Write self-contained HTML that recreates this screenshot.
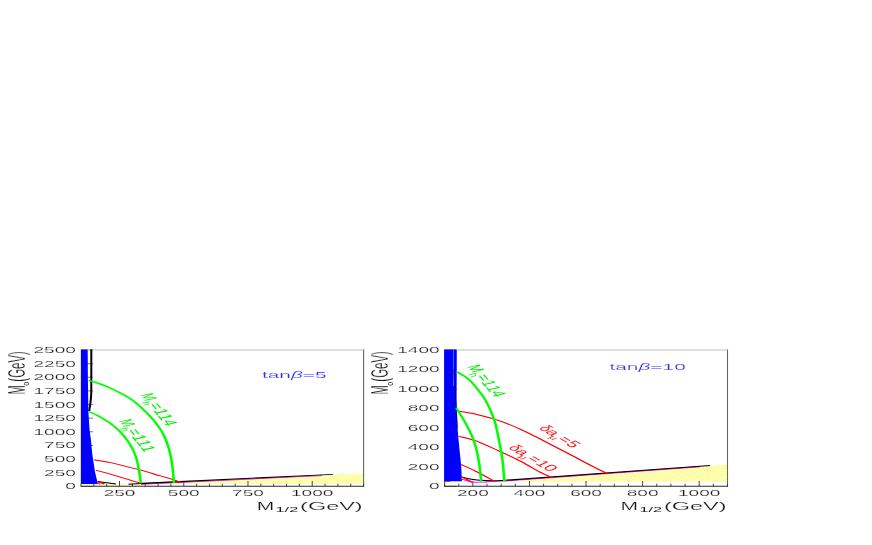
<!DOCTYPE html>
<html><head><meta charset="utf-8"><title>plot</title>
<style>html,body{margin:0;padding:0;background:#fff}svg{display:block;will-change:transform}text{font-family:"Liberation Sans", sans-serif}</style>
</head><body>
<svg width="872" height="545" viewBox="0 0 872 545" font-family='"Liberation Sans", sans-serif'>
<defs><pattern id="hy" width="2.6" height="6" patternUnits="userSpaceOnUse" patternTransform="skewX(-25)"><rect width="2.6" height="6" fill="#fff"/><rect x="0.5" width="1.1" height="6" fill="#ffff3c"/></pattern></defs>
<rect width="872" height="545" fill="#fff"/>
<g id="left">
<path d="M81.00 486.30h12.0 M81.00 483.57h6.0 M81.00 480.85h6.0 M81.00 478.12h6.0 M81.00 475.40h6.0 M81.00 472.67h12.0 M81.00 469.94h6.0 M81.00 467.22h6.0 M81.00 464.49h6.0 M81.00 461.77h6.0 M81.00 459.04h12.0 M81.00 456.31h6.0 M81.00 453.59h6.0 M81.00 450.86h6.0 M81.00 448.14h6.0 M81.00 445.41h12.0 M81.00 442.68h6.0 M81.00 439.96h6.0 M81.00 437.23h6.0 M81.00 434.51h6.0 M81.00 431.78h12.0 M81.00 429.05h6.0 M81.00 426.33h6.0 M81.00 423.60h6.0 M81.00 420.88h6.0 M81.00 418.15h12.0 M81.00 415.42h6.0 M81.00 412.70h6.0 M81.00 409.97h6.0 M81.00 407.25h6.0 M81.00 404.52h12.0 M81.00 401.79h6.0 M81.00 399.07h6.0 M81.00 396.34h6.0 M81.00 393.62h6.0 M81.00 390.89h12.0 M81.00 388.16h6.0 M81.00 385.44h6.0 M81.00 382.71h6.0 M81.00 379.99h6.0 M81.00 377.26h12.0 M81.00 374.53h6.0 M81.00 371.81h6.0 M81.00 369.08h6.0 M81.00 366.36h6.0 M81.00 363.63h12.0 M81.00 360.90h6.0 M81.00 358.18h6.0 M81.00 355.45h6.0 M81.00 352.73h6.0 M81.00 350.00h12.0" stroke="#666" stroke-width="0.9" fill="none"/>
<polygon points="81.0,483.9 128.0,483.9 141.0,483.6 332.0,474.8 363.6,473.2 363.6,483.9 150.0,483.9 136.0,485.2 81.0,485.7" fill="url(#hy)"/>
<polygon points="80.7,349.4 87.7,349.4 87.9,380.0 88.4,412.0 89.6,430.0 90.8,439.0 92.4,455.0 95.0,472.0 97.4,482.0 97.9,484.1 80.6,484.1" fill="#0000ff"/>
<path d="M87.7 350.0H363.6" stroke="#d4d4d4" stroke-width="1.3" fill="none"/>
<path d="M363.6 349.5V486.3" stroke="#666" stroke-width="1.1" fill="none"/>
<path d="M80.5 486.3H364.1" stroke="#2a2a2a" stroke-width="1.05" fill="none"/>
<path d="M80.4 350.0V486.3" stroke="#ffffa0" stroke-width="0.7" fill="none"/>
<path d="M81.00 486.30v-2.6 M93.85 486.30v-2.6 M106.69 486.30v-2.6 M119.54 486.30v-5.3 M132.38 486.30v-2.6 M145.23 486.30v-2.6 M158.07 486.30v-2.6 M170.92 486.30v-2.6 M183.76 486.30v-5.3 M196.61 486.30v-2.6 M209.45 486.30v-2.6 M222.30 486.30v-2.6 M235.15 486.30v-2.6 M247.99 486.30v-5.3 M260.84 486.30v-2.6 M273.68 486.30v-2.6 M286.53 486.30v-2.6 M299.37 486.30v-2.6 M312.22 486.30v-5.3 M325.06 486.30v-2.6 M337.91 486.30v-2.6 M350.75 486.30v-2.6 M363.60 486.30v-2.6" stroke="#333" stroke-width="0.9" fill="none"/>
<g transform="scale(2.0 1)"><path d="M48.80 482.90 L50.10 484.30" stroke="#ff00ff" stroke-width="0.90" fill="none"/></g>
<g transform="scale(2.0 1)"><path d="M70.50 484.30 L161.00 475.70" stroke="#ff00ff" stroke-width="0.70" fill="none"/></g>
<g transform="scale(2.0 1)"><path d="M45.65 349.30 C45.65 354.42 45.66 372.55 45.65 380.00 C45.64 387.45 45.67 390.17 45.60 394.00 C45.53 397.83 45.37 400.17 45.20 403.00 C45.03 405.83 44.70 409.67 44.60 411.00" stroke="#000" stroke-width="1.00" fill="none"/></g>
<g transform="scale(2.0 1)"><path d="M48.75 481.60 L58.00 484.00" stroke="#000" stroke-width="1.00" fill="none"/></g>
<g transform="scale(2.0 1)"><path d="M64.25 484.20 L70.50 483.50" stroke="#000" stroke-width="1.00" fill="none"/></g>
<polygon points="141,482.8 332.8,473.9 332.8,474.8 141,484.25" fill="#000"/>
<g transform="scale(2.0 1)"><path d="M47.00 459.80 C47.50 459.97 48.51 460.28 50.00 460.80 C51.49 461.32 53.97 462.05 55.95 462.90 C57.93 463.75 59.62 464.77 61.90 465.90 C64.18 467.03 66.67 468.07 69.65 469.70 C72.63 471.33 76.92 473.98 79.80 475.70 C82.68 477.42 85.17 478.88 86.95 480.00 C88.73 481.12 89.91 482.00 90.50 482.40" stroke="#ff0000" stroke-width="0.95" fill="none"/></g>
<g transform="scale(2.0 1)"><path d="M47.90 470.30 C48.89 470.80 51.86 472.20 53.85 473.30 C55.84 474.40 57.86 475.68 59.85 476.90 C61.84 478.12 63.94 479.50 65.80 480.60 C67.66 481.70 70.13 483.02 71.00 483.50" stroke="#ff0000" stroke-width="0.95" fill="none"/></g>
<g transform="scale(2.0 1)"><path d="M48.75 481.50 L52.25 484.00" stroke="#ff0000" stroke-width="0.95" fill="none"/></g>
<g transform="scale(2.0 1)"><path d="M44.20 380.20 C45.83 381.33 50.41 383.85 53.95 387.00 C57.49 390.15 62.15 394.67 65.45 399.10 C68.75 403.53 71.53 409.25 73.75 413.60 C75.97 417.95 77.41 421.47 78.80 425.20 C80.19 428.93 81.14 431.95 82.10 436.00 C83.06 440.05 83.89 444.83 84.55 449.50 C85.21 454.17 85.64 458.42 86.05 464.00 C86.46 469.58 86.84 479.83 87.00 483.00" stroke="#00ff00" stroke-width="1.30" fill="none"/></g>
<g transform="scale(2.0 1)"><path d="M44.40 411.70 C45.08 412.30 46.86 413.55 48.50 415.30 C50.14 417.05 52.33 419.48 54.25 422.20 C56.17 424.92 58.25 428.05 60.00 431.60 C61.75 435.15 63.45 439.43 64.75 443.50 C66.05 447.57 67.02 451.73 67.80 456.00 C68.58 460.27 68.97 464.60 69.40 469.10 C69.83 473.60 70.23 480.68 70.40 483.00" stroke="#00ff00" stroke-width="1.30" fill="none"/></g>
</g>
<g id="right">
<path d="M444.60 486.30h12.0 M444.60 481.43h6.0 M444.60 476.56h6.0 M444.60 471.70h6.0 M444.60 466.83h12.0 M444.60 461.96h6.0 M444.60 457.09h6.0 M444.60 452.23h6.0 M444.60 447.36h12.0 M444.60 442.49h6.0 M444.60 437.62h6.0 M444.60 432.75h6.0 M444.60 427.89h12.0 M444.60 423.02h6.0 M444.60 418.15h6.0 M444.60 413.28h6.0 M444.60 408.41h12.0 M444.60 403.55h6.0 M444.60 398.68h6.0 M444.60 393.81h6.0 M444.60 388.94h12.0 M444.60 384.07h6.0 M444.60 379.21h6.0 M444.60 374.34h6.0 M444.60 369.47h12.0 M444.60 364.60h6.0 M444.60 359.74h6.0 M444.60 354.87h6.0 M444.60 350.00h12.0" stroke="#666" stroke-width="0.9" fill="none"/>
<polygon points="522.0,479.6 552.7,477.2 607.8,473.3 710.0,465.8 727.5,464.5 727.5,481.8 522.0,481.8" fill="url(#hy)"/>
<polygon points="444.1,349.4 456.8,349.4 456.6,400.0 456.8,410.0 457.9,433.0 459.5,449.6 461.2,466.0 461.9,481.2 444.1,481.2" fill="#0000ff"/>
<path d="M453.5 350V386" stroke="#9a9aff" stroke-width="0.6" fill="none"/>
<path d="M453.6 369L456.2 407L457.3 428" stroke="#000060" stroke-width="0.6" fill="none"/>
<path d="M456.8 350.0H727.5" stroke="#d4d4d4" stroke-width="1.3" fill="none"/>
<path d="M727.5 349.5V486.3" stroke="#666" stroke-width="1.1" fill="none"/>
<path d="M444.1 486.3H728.0" stroke="#2a2a2a" stroke-width="1.05" fill="none"/>
<path d="M444.6 481.0V486.3" stroke="#444" stroke-width="1" fill="none"/>
<path d="M444.60 486.30v-2.6 M458.75 486.30v-2.6 M472.89 486.30v-5.3 M487.04 486.30v-2.6 M501.18 486.30v-2.6 M515.33 486.30v-2.6 M529.47 486.30v-5.3 M543.62 486.30v-2.6 M557.76 486.30v-2.6 M571.90 486.30v-2.6 M586.05 486.30v-5.3 M600.20 486.30v-2.6 M614.34 486.30v-2.6 M628.49 486.30v-2.6 M642.63 486.30v-5.3 M656.77 486.30v-2.6 M670.92 486.30v-2.6 M685.07 486.30v-2.6 M699.21 486.30v-5.3 M713.36 486.30v-2.6 M727.50 486.30v-2.6" stroke="#333" stroke-width="0.9" fill="none"/>
<g transform="scale(2.0 1)"><path d="M230.80 479.20 L236.00 482.20 L242.65 482.00 L247.20 481.40 L254.00 480.70 L350.00 466.80" stroke="#ff00ff" stroke-width="0.90" fill="none"/></g>
<g transform="scale(2.0 1)"><path d="M230.80 476.90 C231.50 477.25 233.48 478.45 235.00 479.00 C236.52 479.55 237.87 479.92 239.90 480.20 C241.93 480.48 244.85 480.72 247.20 480.70 C249.55 480.68 252.87 480.20 254.00 480.10" stroke="#000" stroke-width="1.00" fill="none"/></g>
<polygon points="507.5,479.55 710,465.0 710,465.9 507.5,480.7" fill="#000"/>
<g transform="scale(2.0 1)"><path d="M228.75 411.00 C230.28 411.53 234.51 412.60 237.95 414.20 C241.39 415.80 245.58 418.00 249.40 420.60 C253.22 423.20 257.03 426.35 260.85 429.80 C264.68 433.25 268.53 437.40 272.35 441.30 C276.18 445.20 279.98 449.18 283.80 453.20 C287.62 457.22 291.95 461.95 295.30 465.40 C298.65 468.85 302.47 472.48 303.90 473.90" stroke="#ff0000" stroke-width="0.95" fill="none"/></g>
<g transform="scale(2.0 1)"><path d="M229.00 436.20 C230.49 436.97 234.55 438.35 237.95 440.80 C241.35 443.25 245.58 447.38 249.40 450.90 C253.22 454.42 257.42 458.35 260.85 461.90 C264.28 465.45 267.42 469.52 270.00 472.20 C272.58 474.88 275.29 477.03 276.35 478.00" stroke="#ff0000" stroke-width="0.95" fill="none"/></g>
<g transform="scale(2.0 1)"><path d="M230.40 464.30 C231.66 465.48 235.11 468.53 237.95 471.40 C240.79 474.27 245.87 479.82 247.45 481.50" stroke="#ff0000" stroke-width="0.95" fill="none"/></g>
<g transform="scale(2.0 1)"><path d="M230.80 476.90 L236.00 482.20" stroke="#ff0000" stroke-width="0.95" fill="none"/></g>
<g transform="scale(2.0 1)"><path d="M228.40 371.60 C229.40 372.90 232.65 376.40 234.40 379.40 C236.15 382.40 237.51 386.13 238.90 389.60 C240.29 393.07 241.38 395.20 242.75 400.20 C244.12 405.20 245.94 412.58 247.10 419.60 C248.26 426.62 249.02 435.62 249.70 442.30 C250.38 448.98 250.78 453.17 251.20 459.70 C251.62 466.23 252.03 477.87 252.20 481.50" stroke="#00ff00" stroke-width="1.30" fill="none"/></g>
<g transform="scale(2.0 1)"><path d="M228.10 407.70 C228.22 408.08 228.03 407.43 228.80 410.00 C229.58 412.57 231.52 418.60 232.75 423.10 C233.98 427.60 235.26 432.35 236.20 437.00 C237.14 441.65 237.82 446.35 238.40 451.00 C238.98 455.65 239.33 459.82 239.70 464.90 C240.07 469.98 240.45 478.73 240.60 481.50" stroke="#00ff00" stroke-width="1.30" fill="none"/></g>
</g>
<text transform="translate(75.90 489.30) scale(2.300 1)" font-size="8.30" text-anchor="end" fill="#151515" stroke="#fff" stroke-width="0.15">0</text>
<text transform="translate(75.90 475.67) scale(2.300 1)" font-size="8.30" text-anchor="end" fill="#151515" stroke="#fff" stroke-width="0.15">250</text>
<text transform="translate(75.90 462.04) scale(2.300 1)" font-size="8.30" text-anchor="end" fill="#151515" stroke="#fff" stroke-width="0.15">500</text>
<text transform="translate(75.90 448.41) scale(2.300 1)" font-size="8.30" text-anchor="end" fill="#151515" stroke="#fff" stroke-width="0.15">750</text>
<text transform="translate(75.90 434.78) scale(2.300 1)" font-size="8.30" text-anchor="end" fill="#151515" stroke="#fff" stroke-width="0.15">1000</text>
<text transform="translate(75.90 421.15) scale(2.300 1)" font-size="8.30" text-anchor="end" fill="#151515" stroke="#fff" stroke-width="0.15">1250</text>
<text transform="translate(75.90 407.52) scale(2.300 1)" font-size="8.30" text-anchor="end" fill="#151515" stroke="#fff" stroke-width="0.15">1500</text>
<text transform="translate(75.90 393.89) scale(2.300 1)" font-size="8.30" text-anchor="end" fill="#151515" stroke="#fff" stroke-width="0.15">1750</text>
<text transform="translate(75.90 380.26) scale(2.300 1)" font-size="8.30" text-anchor="end" fill="#151515" stroke="#fff" stroke-width="0.15">2000</text>
<text transform="translate(75.90 366.63) scale(2.300 1)" font-size="8.30" text-anchor="end" fill="#151515" stroke="#fff" stroke-width="0.15">2250</text>
<text transform="translate(75.90 353.00) scale(2.300 1)" font-size="8.30" text-anchor="end" fill="#151515" stroke="#fff" stroke-width="0.15">2500</text>
<text transform="translate(439.60 489.30) scale(2.300 1)" font-size="8.30" text-anchor="end" fill="#151515" stroke="#fff" stroke-width="0.15">0</text>
<text transform="translate(439.60 469.83) scale(2.300 1)" font-size="8.30" text-anchor="end" fill="#151515" stroke="#fff" stroke-width="0.15">200</text>
<text transform="translate(439.60 450.36) scale(2.300 1)" font-size="8.30" text-anchor="end" fill="#151515" stroke="#fff" stroke-width="0.15">400</text>
<text transform="translate(439.60 430.89) scale(2.300 1)" font-size="8.30" text-anchor="end" fill="#151515" stroke="#fff" stroke-width="0.15">600</text>
<text transform="translate(439.60 411.41) scale(2.300 1)" font-size="8.30" text-anchor="end" fill="#151515" stroke="#fff" stroke-width="0.15">800</text>
<text transform="translate(439.60 391.94) scale(2.300 1)" font-size="8.30" text-anchor="end" fill="#151515" stroke="#fff" stroke-width="0.15">1000</text>
<text transform="translate(439.60 372.47) scale(2.300 1)" font-size="8.30" text-anchor="end" fill="#151515" stroke="#fff" stroke-width="0.15">1200</text>
<text transform="translate(439.60 353.00) scale(2.300 1)" font-size="8.30" text-anchor="end" fill="#151515" stroke="#fff" stroke-width="0.15">1400</text>
<text transform="translate(119.54 496.40) scale(2.300 1)" font-size="8.30" text-anchor="middle" fill="#151515" stroke="#fff" stroke-width="0.15">250</text>
<text transform="translate(183.76 496.40) scale(2.300 1)" font-size="8.30" text-anchor="middle" fill="#151515" stroke="#fff" stroke-width="0.15">500</text>
<text transform="translate(247.99 496.40) scale(2.300 1)" font-size="8.30" text-anchor="middle" fill="#151515" stroke="#fff" stroke-width="0.15">750</text>
<text transform="translate(312.22 496.40) scale(2.300 1)" font-size="8.30" text-anchor="middle" fill="#151515" stroke="#fff" stroke-width="0.15">1000</text>
<text transform="translate(472.89 496.40) scale(2.300 1)" font-size="8.30" text-anchor="middle" fill="#151515" stroke="#fff" stroke-width="0.15">200</text>
<text transform="translate(529.47 496.40) scale(2.300 1)" font-size="8.30" text-anchor="middle" fill="#151515" stroke="#fff" stroke-width="0.15">400</text>
<text transform="translate(586.05 496.40) scale(2.300 1)" font-size="8.30" text-anchor="middle" fill="#151515" stroke="#fff" stroke-width="0.15">600</text>
<text transform="translate(642.63 496.40) scale(2.300 1)" font-size="8.30" text-anchor="middle" fill="#151515" stroke="#fff" stroke-width="0.15">800</text>
<text transform="translate(699.21 496.40) scale(2.300 1)" font-size="8.30" text-anchor="middle" fill="#151515" stroke="#fff" stroke-width="0.15">1000</text>
<text transform="translate(256.80 509.90) scale(1.880 1)" font-size="11.20" text-anchor="start" fill="#151515" stroke="#fff" stroke-width="0.15">M</text>
<text x="275.60" y="512.10" textLength="22.60" lengthAdjust="spacingAndGlyphs" font-size="6.80" fill="#151515">1/2</text>
<text x="300.10" y="509.90" textLength="62.60" lengthAdjust="spacingAndGlyphs" font-size="11.20" fill="#151515" stroke="#fff" stroke-width="0.15">(GeV)</text>
<text transform="translate(620.60 509.90) scale(1.880 1)" font-size="11.20" text-anchor="start" fill="#151515" stroke="#fff" stroke-width="0.15">M</text>
<text x="639.40" y="512.10" textLength="22.60" lengthAdjust="spacingAndGlyphs" font-size="6.80" fill="#151515">1/2</text>
<text x="663.90" y="509.90" textLength="62.60" lengthAdjust="spacingAndGlyphs" font-size="11.20" fill="#151515" stroke="#fff" stroke-width="0.15">(GeV)</text>
<g transform="translate(24.70 393.60) rotate(-90)" fill="#151515" stroke="#fff" stroke-width="0.3">
<text transform="translate(-0.8 0) scale(0.48 1)" font-size="23">M</text>
<text transform="translate(7.9 4.1) scale(1.0 1)" font-size="7.1" stroke="none">0</text>
<text transform="translate(11.9 0) scale(0.50 1)" font-size="23">(GeV)</text>
</g>
<g transform="translate(388.40 393.60) rotate(-90)" fill="#151515" stroke="#fff" stroke-width="0.3">
<text transform="translate(-0.8 0) scale(0.48 1)" font-size="23">M</text>
<text transform="translate(7.9 4.1) scale(1.0 1)" font-size="7.1" stroke="none">0</text>
<text transform="translate(11.9 0) scale(0.50 1)" font-size="23">(GeV)</text>
</g>
<text transform="translate(261.90 377.70) scale(2.270 1)" font-size="9.20" text-anchor="start" fill="#2a2aff" stroke="#fff" stroke-width="0.15">tan<tspan font-style="italic">β</tspan><tspan stroke="none">=</tspan>5</text>
<text transform="translate(609.40 370.00) scale(2.270 1)" font-size="9.20" text-anchor="start" fill="#2a2aff" stroke="#fff" stroke-width="0.15">tan<tspan font-style="italic">β</tspan><tspan stroke="none">=</tspan>10</text>
<g transform="translate(140.10 394.80) scale(2.000 1) rotate(67.50) scale(1.150 1)" fill="#00f000">
<text transform="translate(0.00 0.00) scale(0.80 1)" font-size="9.40">M</text>
<text x="6.30" y="2.40" font-size="5.80">h</text>
<text x="9.20" y="0.00" font-size="9.40">=</text>
<text x="14.60" y="0.00" font-size="9.40">1</text>
<text x="19.60" y="0.00" font-size="9.40">1</text>
<text x="24.60" y="0.00" font-size="9.40">4</text>
</g>
<g transform="translate(118.40 420.80) scale(2.000 1) rotate(67.50) scale(1.150 1)" fill="#00f000">
<text transform="translate(0.00 0.00) scale(0.80 1)" font-size="9.40">M</text>
<text x="6.30" y="2.40" font-size="5.80">h</text>
<text x="9.20" y="0.00" font-size="9.40">=</text>
<text x="14.60" y="0.00" font-size="9.40">1</text>
<text x="19.60" y="0.00" font-size="9.40">1</text>
<text x="24.60" y="0.00" font-size="9.40">1</text>
</g>
<g transform="translate(467.00 366.40) scale(2.000 1) rotate(66.00) scale(1.150 1)" fill="#00f000">
<text transform="translate(0.00 0.00) scale(0.80 1)" font-size="9.40">M</text>
<text x="6.30" y="2.40" font-size="5.80">h</text>
<text x="9.20" y="0.00" font-size="9.40">=</text>
<text x="14.60" y="0.00" font-size="9.40">1</text>
<text x="19.60" y="0.00" font-size="9.40">1</text>
<text x="24.60" y="0.00" font-size="9.40">4</text>
</g>
<g transform="translate(537.90 428.60) scale(2.000 1) rotate(48.50) scale(1.150 1)" fill="#ff1a1a">
<text transform="translate(0.00 0.00) scale(0.90 1)" font-size="9.00">δ</text>
<text x="4.30" y="0.00" font-size="9.00">a</text>
<text x="8.80" y="2.00" font-size="5.60">μ</text>
<text x="12.40" y="0.00" font-size="9.00">=</text>
<text x="17.80" y="0.00" font-size="9.00">5</text>
</g>
<g transform="translate(507.40 448.10) scale(2.000 1) rotate(48.50) scale(1.150 1)" fill="#ff1a1a">
<text transform="translate(0.00 0.00) scale(0.90 1)" font-size="9.00">δ</text>
<text x="4.30" y="0.00" font-size="9.00">a</text>
<text x="8.80" y="2.00" font-size="5.60">μ</text>
<text x="12.40" y="0.00" font-size="9.00">=</text>
<text x="17.80" y="0.00" font-size="9.00">1</text>
<text x="22.80" y="0.00" font-size="9.00">0</text>
</g>
</svg>
</body></html>
